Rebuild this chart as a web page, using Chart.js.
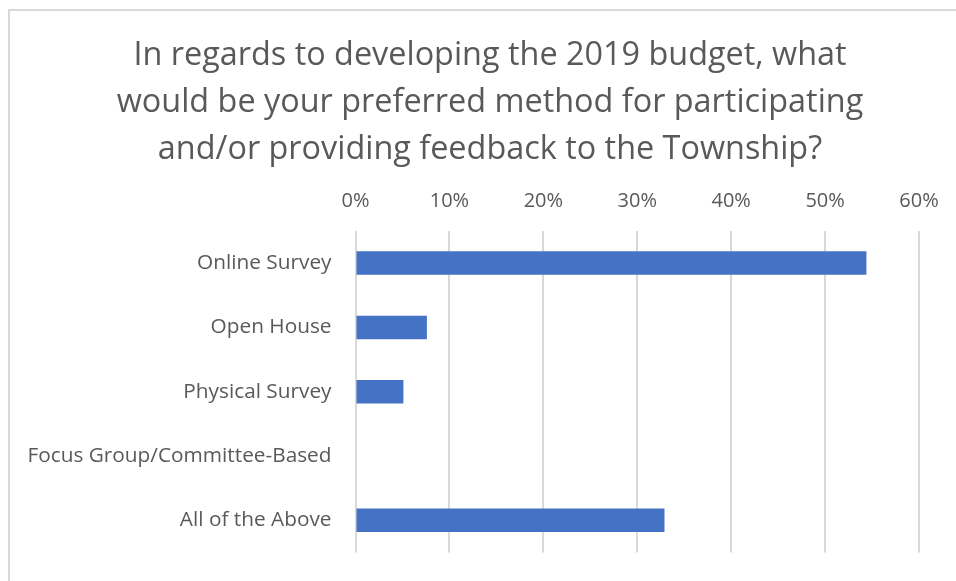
<!DOCTYPE html>
<html>
<head>
<meta charset="utf-8">
<script src="https://cdn.jsdelivr.net/npm/chart.js@4"></script>
<style>
  html, body { margin: 0; padding: 0; overflow: hidden; background: #fff; width: 956px; height: 581px; }
  .frame { position: absolute; left: 8px; top: 9px; width: 1000px; height: 640px; border: 2px solid #d9d9d9; box-sizing: border-box; }
  .wrap { position: absolute; left: 10px; top: 11px; width: 960px; height: 570px; }
</style>
</head>
<body>
<div class="frame"></div>
<div class="wrap"><canvas id="budgetChart"></canvas></div>
<script>
// Survey answers and share of respondents (%)
const methods = ['Online Survey', 'Open House', 'Physical Survey', 'Focus Group/Committee-Based', 'All of the Above'];
const shares = [54.4, 7.6, 5.1, 0, 32.9];
const titleLines = [
    'In regards to developing the 2019 budget, what',
    'would be your preferred method for participating',
    'and/or providing feedback to the Township?'
];

const textColor = '#595959';
const fontStack = '"Open Sans", sans-serif';

document.addEventListener('DOMContentLoaded', function() {
    const ctx = document.getElementById('budgetChart').getContext('2d');
    new Chart(ctx, {
        type: 'bar',
        data: {
            labels: methods,
            datasets: [{
                data: shares,
                backgroundColor: '#4472c4',
                borderWidth: 0,
                categoryPercentage: 1,
                barPercentage: 0.365
            }]
        },
        options: {
            indexAxis: 'y',
            responsive: true,
            maintainAspectRatio: false,
            animation: false,
            layout: {
                padding: { left: 0, right: 0, top: 0, bottom: -5 }
            },
            plugins: {
                legend: { display: false },
                tooltip: { enabled: false },
                title: {
                    display: true,
                    text: titleLines,
                    color: textColor,
                    font: { family: fontStack, size: 32.4, weight: 'normal', lineHeight: 1.46 },
                    padding: { top: 21, bottom: -3 }
                }
            },
            scales: {
                x: {
                    position: 'top',
                    min: 0,
                    max: 60,
                    ticks: {
                        stepSize: 10,
                        color: textColor,
                        font: { family: fontStack, size: 20 },
                        padding: 18,
                        callback: function(v) { return v + '%'; }
                    },
                    grid: { color: '#d9d9d9', lineWidth: 2, drawTicks: false },
                    border: { display: false },
                    // keep the plot's right edge clear of the frame
                    afterFit: function(scale) { scale.paddingRight = 51; }
                },
                y: {
                    ticks: {
                        color: textColor,
                        font: { family: fontStack, size: 20.8 },
                        padding: 16
                    },
                    grid: { display: false },
                    border: { display: false },
                    afterFit: function(scale) { scale.width = 345.5; }
                }
            }
        }
    });
});
</script>
</body>
</html>
